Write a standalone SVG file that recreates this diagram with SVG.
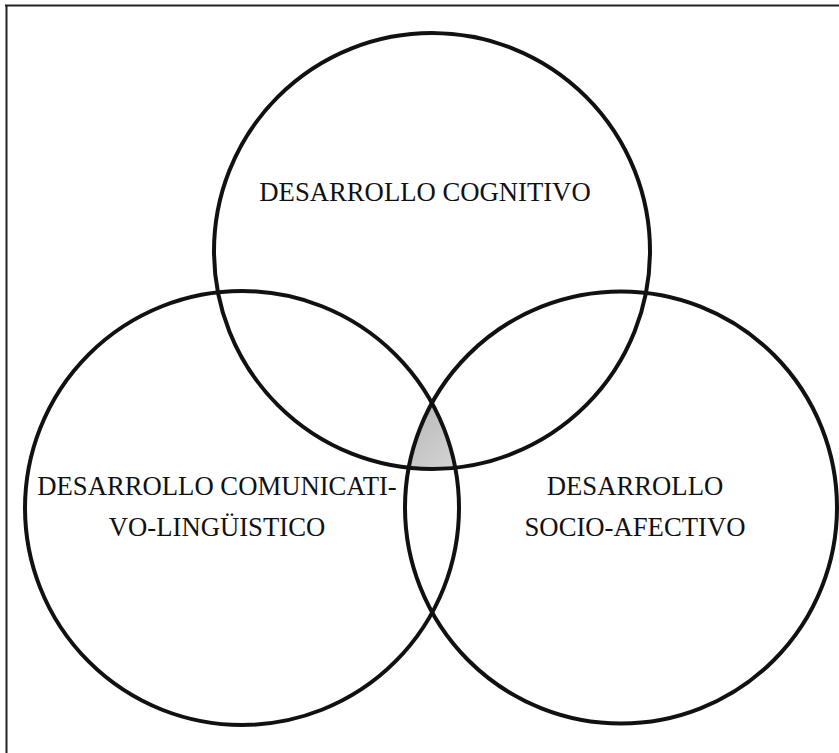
<svg xmlns="http://www.w3.org/2000/svg" width="839" height="753" viewBox="0 0 839 753">
<style>
.ring{fill:none;stroke:#111;stroke-width:4}
.lbl{font-family:"Liberation Serif","Times New Roman",serif;font-size:26.7px;fill:#111;text-anchor:middle}
.frame{stroke:#222;stroke-width:2;fill:none}
</style>
<defs>
<linearGradient id="shade" x1="0" y1="0" x2="1" y2="1">
<stop offset="0" stop-color="#9a9a9a"/>
<stop offset="0.3" stop-color="#dcdcdc"/>
<stop offset="0.55" stop-color="#c4c4c8"/>
<stop offset="1" stop-color="#eeeef0"/>
</linearGradient>
<clipPath id="cTop"><circle cx="432" cy="251" r="218"/></clipPath>
<clipPath id="cLeft"><circle cx="242" cy="508" r="217"/></clipPath>
</defs>
<rect width="839" height="753" fill="#fff"/>
<g id="frame">
<line class="frame" x1="5" y1="5.5" x2="839" y2="5.5"/>
<line class="frame" x1="6.5" y1="5" x2="6.5" y2="753"/>
</g>
<g id="center-overlap">
<g clip-path="url(#cTop)"><g clip-path="url(#cLeft)">
<circle cx="621" cy="507.5" r="216" fill="url(#shade)"/>
</g></g>
</g>
<g id="connectors"></g>
<g id="cognitivo">
<circle class="ring" cx="432" cy="251" r="218"/>
<text class="lbl" x="425" y="201">DESARROLLO COGNITIVO</text>
</g>
<g id="comunicativo">
<circle class="ring" cx="242" cy="508" r="217"/>
<text class="lbl" x="217" y="495">DESARROLLO COMUNICATI-</text>
<text class="lbl" x="217" y="536">VO-LINGÜISTICO</text>
</g>
<g id="socioafectivo">
<circle class="ring" cx="621" cy="507.5" r="216"/>
<text class="lbl" x="635" y="495">DESARROLLO</text>
<text class="lbl" x="635" y="536">SOCIO-AFECTIVO</text>
</g>
</svg>
